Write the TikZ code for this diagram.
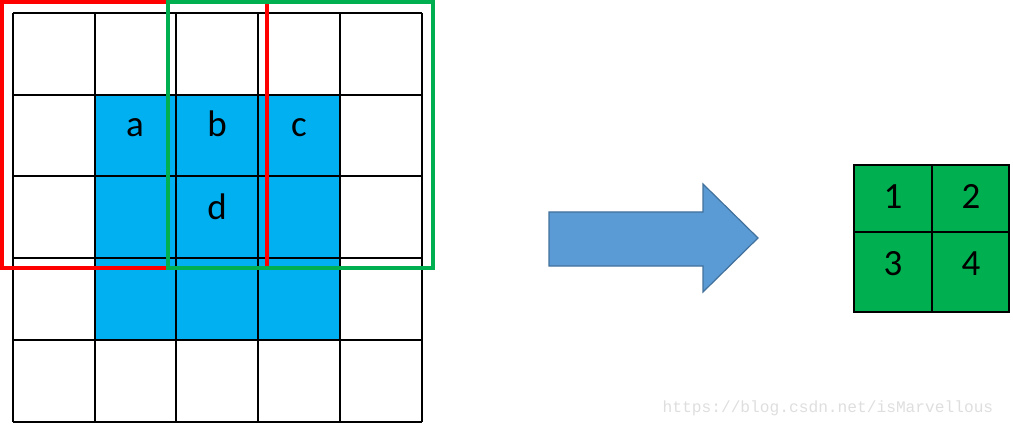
\documentclass[tikz,border=0pt]{standalone}
\usepackage{fontspec}
\setmainfont{Carlito}
\newfontfamily\wmfont{Liberation Mono}
\definecolor{cellblue}{HTML}{00B0F0}
\definecolor{outgreen}{HTML}{00B050}
\definecolor{winred}{HTML}{FF0000}
\definecolor{wingreen}{HTML}{00B050}
\definecolor{arrowfill}{HTML}{5B9BD5}
\definecolor{arrowedge}{HTML}{41719C}
\begin{document}
\begin{tikzpicture}[x=1pt,y=-1pt,
  gridline/.style={draw=black,line width=2pt},
  lbl/.style={font=\fontsize{37}{40}\selectfont,anchor=base,inner sep=0pt},
  window/.style={line width=3.6pt},
  wm/.style={font=\wmfont\fontsize{16.2}{18}\selectfont,text=black!13,anchor=base,inner sep=0pt}]
\useasboundingbox (0,0) rectangle (1013,425);
% blue block
\fill[cellblue] (95,95) rectangle (340,340);
% grid
\foreach \v in {13,95,176,258,340,422} {
  \draw[gridline] (\v,13) -- (\v,422);
  \draw[gridline] (13,\v) -- (422,\v);
}
% labels
\node[lbl] (la) at (135,137) {a};
\node[lbl] (lb) at (217,137) {b};
\node[lbl] (lc) at (299,137) {c};
\node[lbl] (ld) at (217,219) {d};
% windows
\draw[window,winred] (2,2) rectangle (267,268);
\draw[window,wingreen] (168,2) rectangle (433,268);
% arrow
\draw[fill=arrowfill,draw=arrowedge,line width=1.2pt,line join=miter]
  (549,212) -- (703,212) -- (703,184) -- (758,238) -- (703,292) -- (703,266) -- (549,266) -- cycle;
% output grid
\fill[outgreen] (854,165) rectangle (1009,312);
\draw[gridline] (854,165) rectangle (1009,312);
\draw[gridline] (932,165) -- (932,312);
\draw[gridline] (854,232) -- (1009,232);
\node[lbl] (o1) at (893,208) {1};
\node[lbl] (o2) at (971,208) {2};
\node[lbl] (o3) at (893,275) {3};
\node[lbl] (o4) at (971,275) {4};
% watermark
\node[wm] (wmark) at (828,412) {https://blog.csdn.net/isMarvellous};
\end{tikzpicture}
\end{document}
